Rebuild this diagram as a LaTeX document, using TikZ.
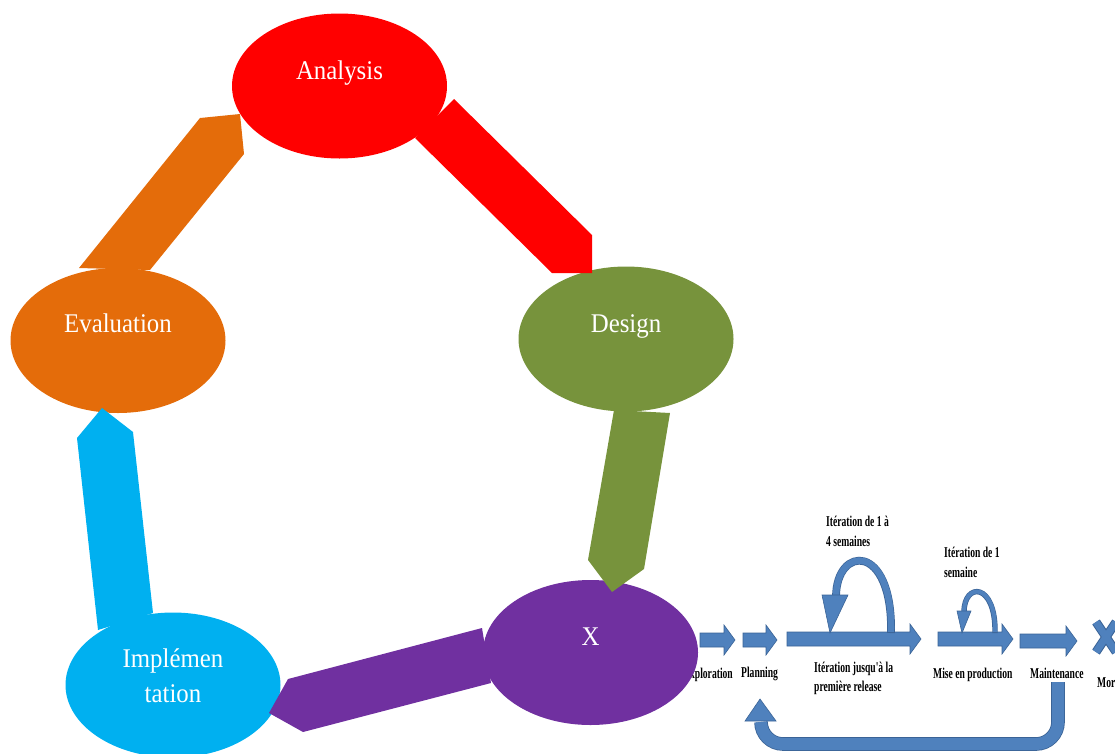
\documentclass[tikz,border=0pt]{standalone}
\usepackage{fontspec}
\usetikzlibrary{shapes.geometric,calc}
\newfontfamily\lblfont[FakeStretch=0.92]{Liberation Serif}
\newfontfamily\xpfont[FakeStretch=0.64]{Liberation Serif}

\definecolor{cRed}{HTML}{FF0000}
\definecolor{cOlive}{HTML}{77933C}
\definecolor{cOrange}{HTML}{E46C0A}
\definecolor{cCyan}{HTML}{00B0F0}
\definecolor{cPurple}{HTML}{7030A0}
\definecolor{xpblue}{HTML}{4F81BD}
\definecolor{xpdark}{HTML}{3A6396}

% straight block arrow of the lifecycle strip: start x, tip x, centre y
\newcommand{\xpblock}[3]{%
  \filldraw[xpfill] (#1,#3-7) -- (#2-11,#3-7) -- (#2-11,#3-15) -- (#2,#3)
    -- (#2-11,#3+15) -- (#2-11,#3+7) -- (#1,#3+7) -- cycle;}

\begin{document}
\begin{tikzpicture}[x=1pt,y=-1pt,
  phase/.style={ellipse, draw=none, minimum width=215pt, minimum height=145pt, inner sep=0pt},
  lbl/.style={font=\lblfont\fontsize{27}{34}\selectfont, text=white, inner sep=0pt, anchor=base},
  xpfill/.style={fill=xpblue, draw=xpdark, line width=0.6pt, line join=miter},
  xptext/.style={font=\xpfont\bfseries\fontsize{15}{20}\selectfont, inner sep=0pt, anchor=base west},
  loopline/.style={draw=xpblue, line width=6.4pt},
  loopedge/.style={draw=xpdark, line width=7.8pt}]

\useasboundingbox (0,0) rectangle (1115,753);

% ---------- lifecycle strip (behind the cycle) ----------
\xpblock{700}{735}{640}
\xpblock{743}{777}{640}
\xpblock{787}{921}{639}
\xpblock{938}{1013}{639}
\xpblock{1020}{1077}{641}

% iteration loops above the strip
\draw[loopedge] (891,633) .. controls (893,542) and (836,545) .. (836,597);
\draw[loopline] (891,632) .. controls (893,542) and (836,545) .. (836,597);
\filldraw[xpfill] (822,595) -- (848,595) -- (830,633) -- cycle;
\draw[draw=xpdark, line width=5.4pt] (995,633) .. controls (996,582) and (964,582) .. (964,612);
\draw[draw=xpblue, line width=4pt] (995,632) .. controls (996,582) and (964,582) .. (964,612);
\filldraw[xpfill] (957,611) -- (971,611) -- (962,633) -- cycle;

% return path from maintenance back to planning
\coordinate (retA) at (1058,682);
\coordinate (retB) at (761,722);
\draw[draw=xpdark, line width=0.8pt, double=xpblue, double distance=12pt, rounded corners=22pt]
  (retA) -- (1058,744) -- (761,744) -- (retB);
\filldraw[xpfill] (745,721) -- (776,721) -- (760,699) -- cycle;

% end cross
\draw[xpdark, line width=9pt] (1096,622) -- (1116,652) (1096,652) -- (1116,622);
\draw[xpblue, line width=7pt] (1096,622) -- (1116,652) (1096,652) -- (1116,622);

% strip labels
\node[xptext, anchor=base east] (tExplo) at (733,678) {Exploration};
\node[xptext] (tPlan) at (741,677) {Planning};
\node[xptext] (tIt1) at (814,672) {Itération jusqu'à la};
\node[xptext] (tIt2) at (814,691) {première release};
\node[xptext] (tProd) at (933,678) {Mise en production};
\node[xptext] (tMaint) at (1030,678) {Maintenance};
\node[xptext] (tMort) at (1097,687) {Mort};
\node[xptext] (tLoopA1) at (826,526) {Itération de 1 à};
\node[xptext] (tLoopA2) at (826,546) {4 semaines};
\node[xptext] (tLoopB1) at (944,557) {Itération de 1};
\node[xptext] (tLoopB2) at (944,577) {semaine};

% ---------- cycle phases ----------
\node[phase, fill=cRed]    (analysis) at (339.5,86) {};
\node[phase, fill=cOlive]  (design)   at (626,339)  {};
\node[phase, fill=cOrange] (evaluation) at (118,340.5) {};
\node[phase, fill=cPurple] (xphase)   at (590.5,652.5) {};
\node[phase, fill=cCyan]   (impl)     at (173,685)  {};

% block arrows between the phases
\fill[cRed]    (454,99) -- (592,235) -- (592,273) -- (552,273) -- (415,138) -- cycle;
\fill[cOlive]  (614,410) -- (670,413) -- (644,569) -- (612,592) -- (588,560) -- cycle;
\fill[cPurple] (482,628) -- (288,679) -- (269,713) -- (303,732) -- (491,683) -- cycle;
\fill[cCyan]   (153,613) -- (133,432) -- (102,408) -- (77,438) -- (98,630) -- cycle;
\fill[cOrange] (150,270) -- (244,154) -- (240,114) -- (200,118) -- (79,268) -- cycle;

% phase names
\node[lbl] (tAnalysis) at ($(analysis.center)+(0,-7)$) {Analysis};
\node[lbl] (tDesign) at ($(design.center)+(0,-7)$) {Design};
\node[lbl] (tEval) at ($(evaluation.center)+(0,-8)$) {Evaluation};
\node[lbl] (tX) at ($(xphase.center)+(0,-7.5)$) {X};
\node[lbl] (tImpl1) at ($(impl.center)+(0,-17.5)$) {Implémen};
\node[lbl] (tImpl2) at ($(impl.center)+(0,17)$) {tation};
\end{tikzpicture}
\end{document}
